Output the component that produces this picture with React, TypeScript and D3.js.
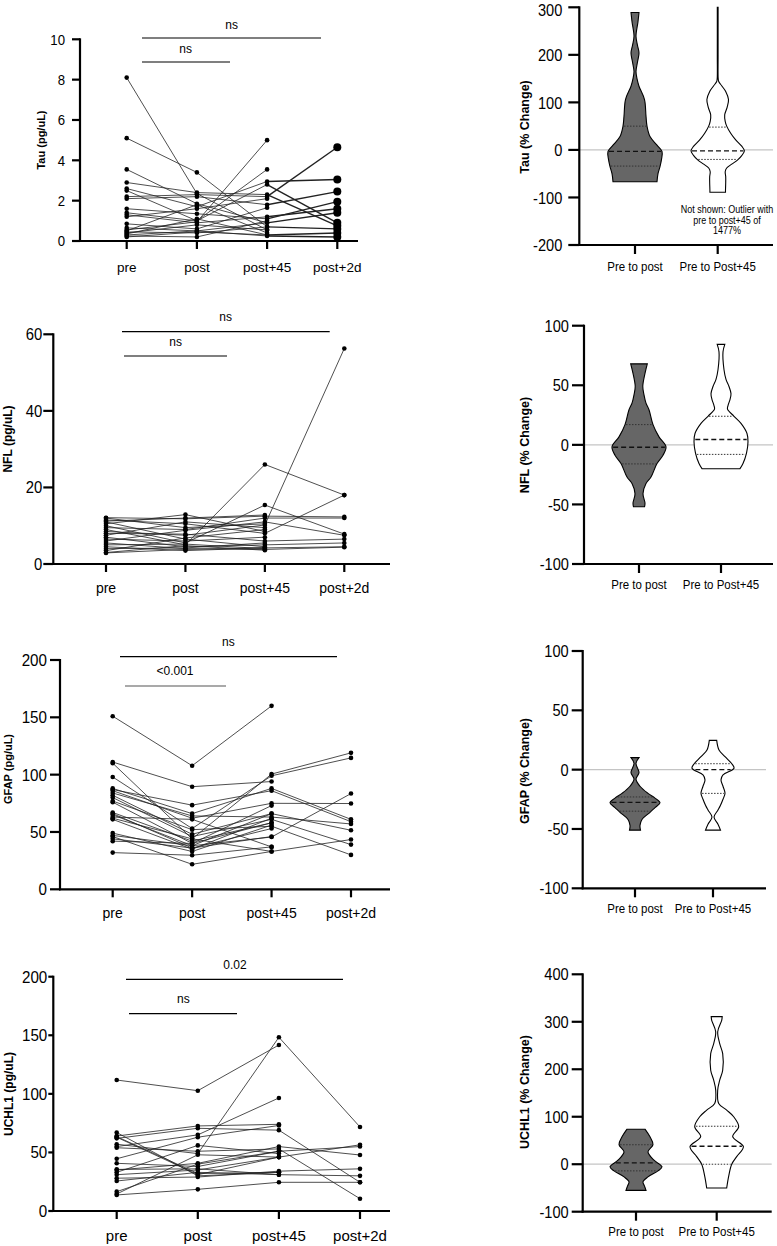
import React from "react";
import * as d3 from "d3";

// ---------- categories ----------
const timepoints = ["pre", "post", "post+45", "post+2d"];
const changeGroups = ["Pre to post", "Pre to Post+45"];

// ---------- paired data (pg/uL) ----------
const tauPre = [8.1, 5.1, 3.55, 2.9, 2.6, 2.5, 2.2, 2.1, 1.6, 1.4, 1.3, 1.2, 0.85, 0.65, 0.55, 0.5, 0.45, 0.4, 0.35, 0.3, 0.25, 0.2];
const tauPost = [2.35, 3.4, 1.85, 2.4, 1.7, 1.0, 2.3, 2.2, 1.35, 1.0, 0.9, 1.6, 0.6, 0.5, 0.95, 1.8, 0.4, 0.8, 1.1, 0.5, 0.2, 0.45];
const tauP45 = [0.55, 0.7, 0.9, 2.3, 2.95, 2.8, 2.2, 1.8, 1.1, 3.55, 1.2, 2.1, 1.65, 0.9, 5.0, 0.4, 0.7, 0.55, 0.3, 0.25, 1.0, 0.3];
const tauP2d = [null, null, null, 0.75, 3.05, 0.9, 4.65, 2.45, 1.95, null, 1.6, null, null, 1.4, null, null, 0.6, null, 0.4, 0.2, null, null];

const nflPre = [12.1, 11.5, 11.0, 10.5, 10.0, 9.5, 9.0, 8.5, 8.0, 7.5, 7.0, 6.5, 6.0, 5.5, 5.0, 4.5, 4.0, 3.5, 3.0, 2.9, 12.0, 11.2];
const nflPost = [11.8, 10.5, 6.5, 12.9, 5.5, 9.0, 5.0, 7.5, 7.8, 11.0, 4.5, 6.0, 8.8, 4.0, 5.2, 3.5, 4.2, 6.8, 4.8, 3.8, 9.5, 12.0];
const nflP45 = [12.5, 8.0, 4.5, 8.5, 15.4, 12.0, 26.0, 10.2, 6.0, 9.5, 5.0, 7.0, 11.0, 3.8, 4.0, 4.2, 5.5, 9.0, 3.6, 4.3, 10.5, 12.8];
const nflP2d = [12.3, 18.0, null, null, 7.8, 12.0, 18.0, 56.3, 6.5, null, 5.5, null, 7.5, 4.4, null, 4.5, null, null, null, null, null, null];

const gfapPre = [151, 111, 110, 98, 88, 87, 86, 84, 82, 80, 77, 76, 67, 66, 65, 63, 62, 61, 49, 47, 46, 44, 42, 32];
const gfapPost = [107.8, 89.5, 44, 53, 66, 73.4, 62, 64, 48, 46, 52, 40, 42, 36, 38, 61, 44, 35, 33, 38, 21.8, 36, 40, 29.7];
const gfapP45 = [160, 94, 100.5, 99, 88, 86, 75, 63, 66, 61, 55, 73, 58, 53, 45.6, 37, 33, 62, 56, 66, 33, 46, 58, 37];
const gfapP2d = [null, null, 119, 114.6, 61, 59, 74.8, 57, 51.5, 39, 30, null, null, null, 83.5, null, 43.4, null, null, null, null, null, null, null];

const uchPre = [111.8, 67, 64, 63, 62, 57, 55, 54, 44.6, 40.7, 35, 33, 31, 28, 25.6, 16.5, 13.7, 14.5, 35.5, 63.5];
const uchPost = [102.7, 30, 72.6, 31, 70.6, 49, 65, 51, 63, 38, 40.7, 56, 35, 29, 33, 40, 18.5, 48, 36, 32];
const uchP45 = [141.7, 33, 74, 46, 69, 148.3, 96.5, 53, 73, 51, 55, 49, 46, 34, 31, 51, 24.5, 46, 31, 33];
const uchP2d = [null, null, null, 56.5, 24.5, 71.7, null, 10.5, null, 55, 47.8, null, null, 36, 30, null, 24.5, null, null, null];

// ---------- significance labels ----------
const tauSig = ["ns", "ns"];
const nflSig = ["ns", "ns"];
const gfapSig = ["ns", "<0.001"];
const uchSig = ["0.02", "ns"];

// ---------- axis ticks ----------
const tauTicks = [0, 2, 4, 6, 8, 10];
const nflTicks = [0, 20, 40, 60];
const gfapTicks = [0, 50, 100, 150, 200];
const uchTicks = [0, 50, 100, 150, 200];
const tauPctTicks = [-200, -100, 0, 100, 200, 300];
const nflPctTicks = [-100, -50, 0, 50, 100];
const gfapPctTicks = [-100, -50, 0, 50, 100];
const uchPctTicks = [-100, 0, 100, 200, 300, 400];

// ---------- violin profiles (% change level, relative density) ----------
const tauPPLevels = [289, 270, 239, 220, 204, 185, 165, 150, 134, 106, 71, 50, 28, 10, -3, -20, -35, -50, -67];
const tauPPDens = [4, 3, 1, 2.5, 4, 2.5, 1, 2, 4, 9.5, 11, 12, 15, 22, 27, 26.5, 25, 23, 22];
const tauPPQ = [-34, -3, 50];
const tauP45Levels = [300, 200, 150, 144, 135, 123, 106, 90, 74, 60, 50, 35, 21, 8, -2, -12, -21, -30, -38, -46, -56, -70, -84, -89];
const tauP45Dens = [0.4, 0.4, 0.5, 1, 4, 8, 10.8, 9.5, 7, 7.5, 9, 13, 18, 24, 26.7, 24, 20, 14, 9, 7.5, 8, 8, 7.8, 7.8];
const tauP45Q = [-20, -2, 48];

const nflPPLevels = [68, 60, 49, 42, 35, 29.5, 17, 6.7, -1.7, -8.7, -15.7, -27, -32.5, -41, -49, -52];
const nflPPDens = [8.3, 6, 3.8, 5, 7, 10, 14, 20, 27, 24, 18, 12, 7, 4, 6, 5.5];
const nflPPQ = [-16, -2, 17];
const nflP45Levels = [84.3, 78, 63, 55, 49, 43, 38, 33, 30, 24, 18, 9.5, 2.5, -7, -15.7, -20];
const nflP45Dens = [3.8, 2, 3, 5, 8, 10, 9, 7, 6.5, 13, 20, 26, 27, 25.5, 22, 19];
const nflP45Q = [-8, 4.5, 24];

const gfapPPLevels = [10.1, 5.4, -2.5, -8, -14, -20, -24, -28, -32, -36, -42, -47, -51];
const gfapPPDens = [4, 1, 4, 1, 5, 13, 20, 25, 20, 15, 7, 5, 5.5];
const gfapPPQ = [-35, -27.6, -23];
const gfapP45Levels = [24.7, 16.6, 11, 4.8, 1.2, -4.4, -8.6, -14, -19.8, -25, -30, -34, -40, -46, -51];
const gfapP45Dens = [3.7, 6, 12, 19, 21, 10, 8, 10, 12, 10, 7.5, 5, 1, 5, 7.5];
const gfapP45Q = [-20, 0, 5];

const uchPPLevels = [73.8, 57.6, 41.4, 26, 8.5, -5.6, -14, -26.7, -37, -46, -55];
const uchPPDens = [9, 14, 17, 12, 18, 26, 22, 12, 7, 8.5, 10];
const uchPPQ = [-14, 2.8, 41];
const uchP45Levels = [310.8, 303, 279, 254, 233, 198, 177, 156, 128, 114, 100, 79, 58, 37, 16, 0, -25, -50];
const uchP45Dens = [5.5, 5, 1, 3, 6, 6, 3, 1, 2, 10, 17, 22, 16, 26.7, 20, 15, 12, 10];
const uchP45Q = [0, 38, 80];

const FONT = "'Liberation Sans', Arial, Helvetica, sans-serif";

type Sig = { x1: number; x2: number; y: number; tx: number; ty: number; color?: string };

type LeftCfg = {
  title: string; titleSize: number; titleX: number; titleY: number;
  pre: number[]; post: number[]; p45: number[]; p2d: (number | null)[];
  ticks: number[]; yMax: number;
  axisX: number; y0: number; yTop: number; xFirst: number; xLast: number; xEnd: number;
  tickLen: number; labelGap: number; tickFont: number; tickSx: number; catFont: number; catY: number;
  sigLabels: string[]; sigs: Sig[]; big2d?: boolean;
};

function LeftPanel({ c }: { c: LeftCfg }) {
  const y = d3.scaleLinear().domain([0, c.yMax]).range([c.y0, c.yTop]);
  const x = d3.scalePoint<string>().domain(timepoints).range([c.xFirst, c.xLast]);
  const subjects = c.pre.map((v, i) => [v, c.post[i], c.p45[i], c.p2d[i]] as (number | null)[]);
  const segs: { x1: number; y1: number; x2: number; y2: number; k: number }[] = [];
  const dots: { cx: number; cy: number; k: number }[] = [];
  subjects.forEach((s) => {
    s.forEach((v, k) => {
      if (v == null) return;
      dots.push({ cx: x(timepoints[k])!, cy: y(v), k });
      if (k > 0 && s[k - 1] != null) {
        segs.push({ x1: x(timepoints[k - 1])!, y1: y(s[k - 1] as number), x2: x(timepoints[k])!, y2: y(v), k });
      }
    });
  });
  return (
    <g fontFamily={FONT}>
      {segs.map((s, i) => (
        <line key={"s" + i} x1={s.x1} y1={s.y1} x2={s.x2} y2={s.y2} stroke="#222"
          strokeWidth={c.big2d && s.k === 3 ? 1.4 : 0.8} />
      ))}
      {dots.map((d, i) => (
        <circle key={"d" + i} cx={d.cx} cy={d.cy} r={c.big2d && d.k === 3 ? 4 : 2.3} fill="#000" />
      ))}
      <line x1={c.axisX} x2={c.axisX} y1={y(c.yMax) - 1} y2={c.y0 + 1} stroke="#000" strokeWidth={2.2} />
      <line x1={c.axisX - 1} x2={c.xEnd} y1={c.y0} y2={c.y0} stroke="#000" strokeWidth={2.2} />
      {c.ticks.map((t) => (
        <g key={"t" + t}>
          <line x1={c.axisX - c.tickLen} x2={c.axisX} y1={y(t)} y2={y(t)} stroke="#000" strokeWidth={2.2} />
          <text transform={`translate(${c.axisX - c.labelGap},${y(t)}) scale(${c.tickSx},1)`} dy="0.36em"
            textAnchor="end" fontSize={c.tickFont}>{t}</text>
        </g>
      ))}
      {timepoints.map((tp) => (
        <g key={tp}>
          <line x1={x(tp)} x2={x(tp)} y1={c.y0} y2={c.y0 + 8} stroke="#000" strokeWidth={2.2} />
          <text x={x(tp)} y={c.catY} textAnchor="middle" fontSize={c.catFont}>{tp}</text>
        </g>
      ))}
      <text transform={`translate(${c.titleX},${c.titleY}) rotate(-90)`} textAnchor="middle" dy="0.36em"
        fontWeight="bold" fontSize={c.titleSize}>{c.title}</text>
      {c.sigs.map((s, i) => (
        <g key={"g" + i}>
          <line x1={s.x1} x2={s.x2} y1={s.y} y2={s.y} stroke={s.color || "#000"} strokeWidth={1.2} />
          <text x={s.tx} y={s.ty} textAnchor="middle" fontSize={12}>{c.sigLabels[i]}</text>
        </g>
      ))}
    </g>
  );
}

type Violin = { levels: number[]; dens: number[]; q: number[]; fill: string };
type RightCfg = {
  title: string; titleY: number; ticks: number[]; yMin: number; yMax: number;
  axisX: number; yBottom: number; yTop: number; xFirst: number; xLast: number; xEnd: number;
  tickLen: number; labelGap: number; catY: number; violins: Violin[]; note?: string[];
};

function widthAt(levels: number[], dens: number[], v: number) {
  for (let i = 0; i < levels.length - 1; i++) {
    const a = levels[i], b = levels[i + 1];
    if (v <= a && v >= b) {
      const t = (a - v) / (a - b);
      return dens[i] + t * (dens[i + 1] - dens[i]);
    }
  }
  return 0;
}

const RT_FS = 17;

function RightPanel({ c }: { c: RightCfg }) {
  const y = d3.scaleLinear().domain([c.yMin, c.yMax]).range([c.yBottom, c.yTop]);
  const x = d3.scalePoint<string>().domain(changeGroups).range([c.xFirst, c.xLast]);
  const w = d3.scaleLinear().domain([0, 27]).range([0, 27]);
  return (
    <g fontFamily={FONT}>
      <line x1={c.axisX} x2={c.xEnd} y1={y(0)} y2={y(0)} stroke="#c4c4c4" strokeWidth={1.2} />
      {c.violins.map((v, i) => {
        const cx = x(changeGroups[i])!;
        const pts = v.levels.map((l, k) => [l, v.dens[k]] as [number, number]);
        const area = d3.area<[number, number]>()
          .y((d) => y(d[0]))
          .x0((d) => cx - w(d[1]))
          .x1((d) => cx + w(d[1]))
          .curve(d3.curveCatmullRom.alpha(0.5));
        return (
          <g key={"v" + i}>
            <path d={area(pts) || ""} fill={v.fill} stroke="#000" strokeWidth={1.1} />
            {v.q.map((qv, k) => {
              const hw = w(widthAt(v.levels, v.dens, qv)) - 1;
              const med = k === 1;
              return (
                <line key={"q" + k} x1={cx - hw} x2={cx + hw} y1={y(qv)} y2={y(qv)}
                  stroke={med ? "#111" : "#333"} strokeWidth={med ? 1.4 : 1}
                  strokeDasharray={med ? "5,3" : "1.5,1.5"} />
              );
            })}
          </g>
        );
      })}
      <line x1={c.axisX} x2={c.axisX} y1={c.yTop - 1} y2={c.yBottom + 1} stroke="#000" strokeWidth={2.2} />
      <line x1={c.axisX - 1} x2={c.xEnd} y1={c.yBottom} y2={c.yBottom} stroke="#000" strokeWidth={2.2} />
      {c.ticks.map((t) => {
        const base = Math.max(y(t) + 0.36 * RT_FS, 0.95 * RT_FS);
        return (
          <g key={"t" + t}>
            <line x1={c.axisX - c.tickLen} x2={c.axisX} y1={y(t)} y2={y(t)} stroke="#000" strokeWidth={2.2} />
            <text transform={`translate(${c.axisX - c.labelGap},${base}) scale(0.86,1)`}
              textAnchor="end" fontSize={RT_FS}>{t}</text>
          </g>
        );
      })}
      {changeGroups.map((g) => (
        <g key={g}>
          <line x1={x(g)} x2={x(g)} y1={c.yBottom} y2={c.yBottom + 9} stroke="#000" strokeWidth={2.2} />
          <text transform={`translate(${x(g)},${c.catY}) scale(0.92,1)`} textAnchor="middle" fontSize={12.5}>{g}</text>
        </g>
      ))}
      <text transform={`translate(524,${c.titleY}) rotate(-90)`} textAnchor="middle" dy="0.36em"
        fontWeight="bold" fontSize={12.5}>{c.title}</text>
      {c.note && c.note.map((n, i) => (
        <text key={"n" + i} transform={`translate(727,${213 + i * 10.5}) scale(0.9,1)`} textAnchor="middle" fontSize={10}>{n}</text>
      ))}
    </g>
  );
}

const noteLines = ["Not shown: Outlier with", "pre to post+45 of", "1477%"];

export default function App() {
  const left: LeftCfg[] = [
    {
      title: "Tau (pg/uL)", titleSize: 11, titleX: 41, titleY: 140,
      pre: tauPre, post: tauPost, p45: tauP45, p2d: tauP2d, ticks: tauTicks, yMax: 10,
      axisX: 80, y0: 241, yTop: 39.3, xFirst: 126.7, xLast: 337.3, xEnd: 358,
      tickLen: 8, labelGap: 15, tickFont: 15, tickSx: 0.88, catFont: 13.5, catY: 272,
      sigLabels: tauSig, big2d: true,
      sigs: [
        { x1: 142, x2: 321, y: 38, tx: 231.7, ty: 29 },
        { x1: 142, x2: 230, y: 62, tx: 185.7, ty: 53 },
      ],
    },
    {
      title: "NFL (pg/uL)", titleSize: 12, titleX: 8, titleY: 439,
      pre: nflPre, post: nflPost, p45: nflP45, p2d: nflP2d, ticks: nflTicks, yMax: 60,
      axisX: 53.3, y0: 564, yTop: 334.3, xFirst: 106, xLast: 344.3, xEnd: 390,
      tickLen: 10, labelGap: 11, tickFont: 16.5, tickSx: 0.9, catFont: 14, catY: 593,
      sigLabels: nflSig,
      sigs: [
        { x1: 122, x2: 329.7, y: 331.7, tx: 225.7, ty: 321 },
        { x1: 124, x2: 227, y: 356, tx: 175.7, ty: 346 },
      ],
    },
    {
      title: "GFAP (pg/uL)", titleSize: 11, titleX: 8.5, titleY: 769,
      pre: gfapPre, post: gfapPost, p45: gfapP45, p2d: gfapP2d, ticks: gfapTicks, yMax: 200,
      axisX: 60, y0: 889.3, yTop: 660, xFirst: 112.7, xLast: 351, xEnd: 390,
      tickLen: 10, labelGap: 13, tickFont: 16.5, tickSx: 0.92, catFont: 14, catY: 918,
      sigLabels: gfapSig,
      sigs: [
        { x1: 120, x2: 337, y: 656.7, tx: 228.3, ty: 646 },
        { x1: 125, x2: 226, y: 686, tx: 175, ty: 675, color: "#555" },
      ],
    },
    {
      title: "UCHL1 (pg/uL)", titleSize: 12, titleX: 9, titleY: 1094,
      pre: uchPre, post: uchPost, p45: uchP45, p2d: uchP2d, ticks: uchTicks, yMax: 200,
      axisX: 53.3, y0: 1211, yTop: 976.7, xFirst: 116.7, xLast: 360, xEnd: 390,
      tickLen: 5, labelGap: 6, tickFont: 16.5, tickSx: 0.92, catFont: 15, catY: 1241,
      sigLabels: uchSig,
      sigs: [
        { x1: 126, x2: 343, y: 979.3, tx: 235, ty: 969 },
        { x1: 129, x2: 237, y: 1013.7, tx: 183.3, ty: 1003 },
      ],
    },
  ];
  const right: RightCfg[] = [
    {
      title: "Tau (% Change)", titleY: 127, ticks: tauPctTicks, yMin: -200, yMax: 300,
      axisX: 579.3, yBottom: 245, yTop: 7.3, xFirst: 635, xLast: 717.7, xEnd: 773,
      tickLen: 11, labelGap: 17, catY: 271,
      violins: [
        { levels: tauPPLevels, dens: tauPPDens, q: tauPPQ, fill: "#666666" },
        { levels: tauP45Levels, dens: tauP45Dens, q: tauP45Q, fill: "#ffffff" },
      ],
      note: noteLines,
    },
    {
      title: "NFL (% Change)", titleY: 445, ticks: nflPctTicks, yMin: -100, yMax: 100,
      axisX: 584, yBottom: 564, yTop: 325.7, xFirst: 639, xLast: 721, xEnd: 773,
      tickLen: 12, labelGap: 15, catY: 589,
      violins: [
        { levels: nflPPLevels, dens: nflPPDens, q: nflPPQ, fill: "#666666" },
        { levels: nflP45Levels, dens: nflP45Dens, q: nflP45Q, fill: "#ffffff" },
      ],
    },
    {
      title: "GFAP (% Change)", titleY: 771, ticks: gfapPctTicks, yMin: -100, yMax: 100,
      axisX: 582.7, yBottom: 888.3, yTop: 651, xFirst: 635, xLast: 713, xEnd: 766,
      tickLen: 11, labelGap: 14, catY: 913,
      violins: [
        { levels: gfapPPLevels, dens: gfapPPDens, q: gfapPPQ, fill: "#666666" },
        { levels: gfapP45Levels, dens: gfapP45Dens, q: gfapP45Q, fill: "#ffffff" },
      ],
    },
    {
      title: "UCHL1 (% Change)", titleY: 1092, ticks: uchPctTicks, yMin: -100, yMax: 400,
      axisX: 582.7, yBottom: 1211.7, yTop: 974.3, xFirst: 636, xLast: 716.7, xEnd: 771.7,
      tickLen: 11, labelGap: 14, catY: 1236,
      violins: [
        { levels: uchPPLevels, dens: uchPPDens, q: uchPPQ, fill: "#666666" },
        { levels: uchP45Levels, dens: uchP45Dens, q: uchP45Q, fill: "#ffffff" },
      ],
    },
  ];
  return (
    <svg width={777} height={1246} style={{ position: "absolute", left: 0, top: 0, display: "block", background: "#fff" }}>
      <rect x={0} y={0} width={777} height={1246} fill="#fff" />
      {left.map((c, i) => <LeftPanel key={"l" + i} c={c} />)}
      {right.map((c, i) => <RightPanel key={"r" + i} c={c} />)}
    </svg>
  );
}
